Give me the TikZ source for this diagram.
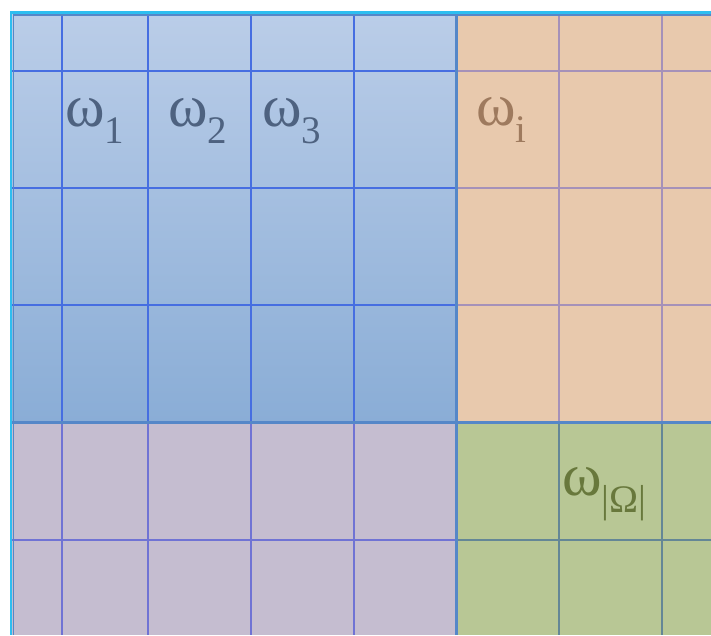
\documentclass[tikz,border=0pt]{standalone}
\usepackage{fontspec}
\setmainfont{Liberation Serif}
\usetikzlibrary{calc}
\definecolor{blueTop}{RGB}{186,205,232}
\definecolor{blueBot}{RGB}{138,173,214}
\definecolor{regionO}{RGB}{232,201,173}
\definecolor{regionP}{RGB}{197,189,208}
\definecolor{regionG}{RGB}{184,199,149}
\definecolor{gridB}{RGB}{70,110,225}
\definecolor{gridO}{RGB}{165,145,185}
\definecolor{gridP}{RGB}{112,115,212}
\definecolor{gridG}{RGB}{100,135,150}
\definecolor{edgeR}{RGB}{85,135,200}
\definecolor{edgeOut}{RGB}{45,190,240}
\definecolor{labelB}{RGB}{78,98,128}
\definecolor{labelO}{RGB}{158,122,94}
\definecolor{labelG}{RGB}{104,120,60}
\newcommand{\wsub}[1]{ω\raisebox{-17pt}{\fontsize{39}{39}\selectfont #1}}
\tikzstyle{cellline}=[line width=1.6pt]
\tikzstyle{border}=[edgeR, line width=3pt]
\tikzstyle{omega}=[anchor=base west, inner sep=0pt, font=\fontsize{60}{60}\selectfont]

\begin{document}
\begin{tikzpicture}[x=1pt, y=-1pt]
				\useasboundingbox (0,0) rectangle (711,635);

				\coordinate (TL) at (12,14);
				\coordinate (M) at (456,422);
				\coordinate (BR) at (711,635);

				\fill[top color=blueTop, bottom color=blueBot] (TL) rectangle (M);
				\fill[regionO] (456,14) rectangle (711,422);
				\fill[regionP] (12,422) rectangle (456,635);
				\fill[regionG] (M) rectangle (BR);

				\foreach \x in {62,148,251,354} {
					\draw[gridB, cellline] (\x,14) -- (\x,422);
					\draw[gridP, cellline] (\x,422) -- (\x,635);
				}
				\foreach \x in {559,662} {
					\draw[gridO, cellline] (\x,14) -- (\x,422);
					\draw[gridG, cellline] (\x,422) -- (\x,635);
				}
				\foreach \y in {71,188,305} {
					\draw[gridB, cellline] (12,\y) -- (456,\y);
					\draw[gridO, cellline] (456,\y) -- (711,\y);
				}
				\draw[gridP, cellline] (12,540) -- (456,540);
				\draw[gridG, cellline] (456,540) -- (711,540);

				\draw[border] (456,14) -- (456,635);
				\draw[border] (12,422) -- (711,422);
				\draw[edgeOut, line width=2.5pt] (711,12.5) -- (11,12.5) -- (11,635);
				\draw[edgeR, line width=1.2pt] (711,15) -- (13.5,15) -- (13.5,635);

				\node[omega, text=labelB] (w1) at (65,126) {\wsub{1}};
				\node[omega, text=labelB] (w2) at (168,126) {\wsub{2}};
				\node[omega, text=labelB] (w3) at (262,126) {\wsub{3}};
				\node[omega, text=labelO] (wi) at (476,125) {\wsub{i}};
				\node[omega, text=labelG] (wO) at (562,495) {\wsub{|Ω|}};
			\end{tikzpicture}
\end{document}
